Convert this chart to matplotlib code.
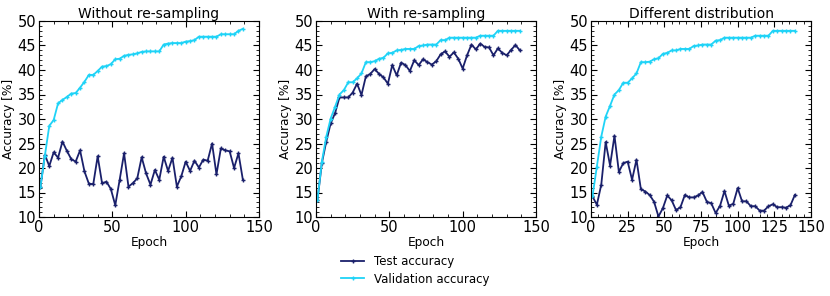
import numpy as np
import matplotlib
matplotlib.use("Agg")
import matplotlib.pyplot as plt
from matplotlib.ticker import AutoMinorLocator

# epochs every 3rd
epochs = np.arange(1, 140, 3)

# without re-sampling
test_1 = [16.2, 22.7, 20.4, 23.2, 22.1, 25.4, 23.5, 21.8, 21.3, 23.6, 19.3, 16.8,
          16.7, 22.4, 16.9, 17.2, 15.7, 12.4, 17.6, 23.0, 16.2, 16.9, 17.9, 22.2,
          18.9, 16.6, 19.6, 17.6, 22.3, 19.4, 22.1, 16.2, 18.3, 21.3, 19.4, 21.5,
          20.1, 21.7, 21.5, 25.0, 18.7, 24.0, 23.6, 23.4, 20.0, 23.0, 17.6]
val_1 = [16.2, 22.5, 28.6, 29.8, 33.2, 33.9, 34.5, 35.2, 35.3, 36.4, 37.6, 39.0,
         39.0, 39.8, 40.7, 40.8, 41.2, 42.2, 42.3, 42.9, 43.1, 43.2, 43.4, 43.7,
         43.8, 43.8, 43.8, 43.8, 45.2, 45.4, 45.5, 45.5, 45.5, 45.8, 45.9, 46.1,
         46.8, 46.8, 46.8, 46.8, 46.8, 47.3, 47.3, 47.3, 47.3, 48.0, 48.4]

# with re-sampling
test_2 = [13.5, 21.0, 25.4, 29.1, 31.2, 34.4, 34.4, 34.4, 35.4, 37.2, 34.9, 38.7,
          39.2, 40.2, 39.2, 38.5, 37.2, 41.0, 38.9, 41.5, 41.0, 39.8, 42.0, 41.0,
          42.2, 41.6, 41.1, 41.8, 43.2, 43.8, 42.7, 43.6, 42.3, 40.3, 43.0, 45.2,
          44.2, 45.4, 44.7, 44.6, 43.0, 44.4, 43.5, 43.0, 44.1, 45.1, 44.0]
val_2 = [13.5, 21.3, 26.4, 30.1, 32.5, 35.0, 35.9, 37.5, 37.5, 38.3, 39.3, 41.6,
         41.6, 41.8, 42.3, 42.5, 43.4, 43.5, 44.0, 44.1, 44.3, 44.3, 44.3, 44.9,
         45.0, 45.2, 45.2, 45.2, 46.1, 46.1, 46.6, 46.6, 46.6, 46.6, 46.6, 46.6,
         46.6, 47.0, 47.0, 47.0, 47.0, 48.0, 48.0, 48.0, 48.0, 48.0, 48.0]

# different distribution
test_3 = [14.2, 12.5, 16.6, 25.3, 20.5, 26.6, 19.2, 21.0, 21.3, 17.6, 21.7, 15.7,
          15.2, 14.5, 13.1, 10.1, 11.8, 14.4, 13.4, 11.4, 12.0, 14.5, 14.0, 14.0,
          14.4, 15.1, 13.1, 12.8, 10.8, 12.3, 15.3, 12.3, 12.7, 15.9, 13.2, 13.2,
          12.2, 12.2, 11.3, 11.3, 12.2, 12.6, 12.0, 12.0, 11.9, 12.4, 14.5]
val_3 = [14.2, 20.3, 26.4, 30.5, 32.7, 35.0, 35.9, 37.4, 37.4, 38.3, 39.3, 41.6,
         41.6, 41.7, 42.2, 42.4, 43.3, 43.5, 44.0, 44.0, 44.3, 44.3, 44.3, 44.9,
         45.0, 45.2, 45.2, 45.2, 46.0, 46.1, 46.6, 46.6, 46.6, 46.6, 46.6, 46.6,
         46.6, 47.0, 47.0, 47.0, 47.0, 48.0, 48.0, 48.0, 48.0, 48.0, 48.0]

titles = ["Without re-sampling", "With re-sampling", "Different distribution"]
tests = [test_1, test_2, test_3]
vals = [val_1, val_2, val_3]
xticks_list = [[0, 50, 100, 150], [0, 50, 100, 150], [0, 25, 50, 75, 100, 125, 150]]

navy = "#1a206b"
cyan = "#1fd3f7"

fig = plt.figure(figsize=(8.3, 2.96), dpi=100)
lefts = [39, 316, 591]
W, H = 830, 296
for i in range(3):
    ax = fig.add_axes([lefts[i] / W, 1 - 217 / H, 220 / W, 196 / H])
    ax.plot(epochs, tests[i], color=navy, marker="+", markersize=2.5, lw=1.3,
            label="Test accuracy")
    ax.plot(epochs, vals[i], color=cyan, marker="+", markersize=2.5, lw=1.3,
            label="Validation accuracy")
    ax.set_xlim(0, 150)
    ax.set_ylim(10, 50)
    ax.set_xticks(xticks_list[i])
    ax.set_yticks(range(10, 51, 5))
    ax.xaxis.set_minor_locator(AutoMinorLocator(5))
    ax.yaxis.set_minor_locator(AutoMinorLocator(5))
    ax.tick_params(which="both", direction="in", top=True, right=True, labelsize=10.5, pad=2)
    ax.tick_params(which="major", length=4)
    ax.tick_params(which="minor", length=2)
    ax.set_xlabel("Epoch", fontsize=8.7, labelpad=1)
    ax.set_ylabel("Accuracy [%]", fontsize=8.7, labelpad=2)
    ax.set_title(titles[i], fontsize=10, pad=2)
    if i == 1:
        handles, labels = ax.get_legend_handles_labels()

fig.legend(handles, labels, loc="center", bbox_to_anchor=(415 / W, 1 - 270.5 / H),
           frameon=False, fontsize=8.5, handlelength=2.0, labelspacing=0.35,
           numpoints=1)
fig.savefig("out.png", dpi=100)
